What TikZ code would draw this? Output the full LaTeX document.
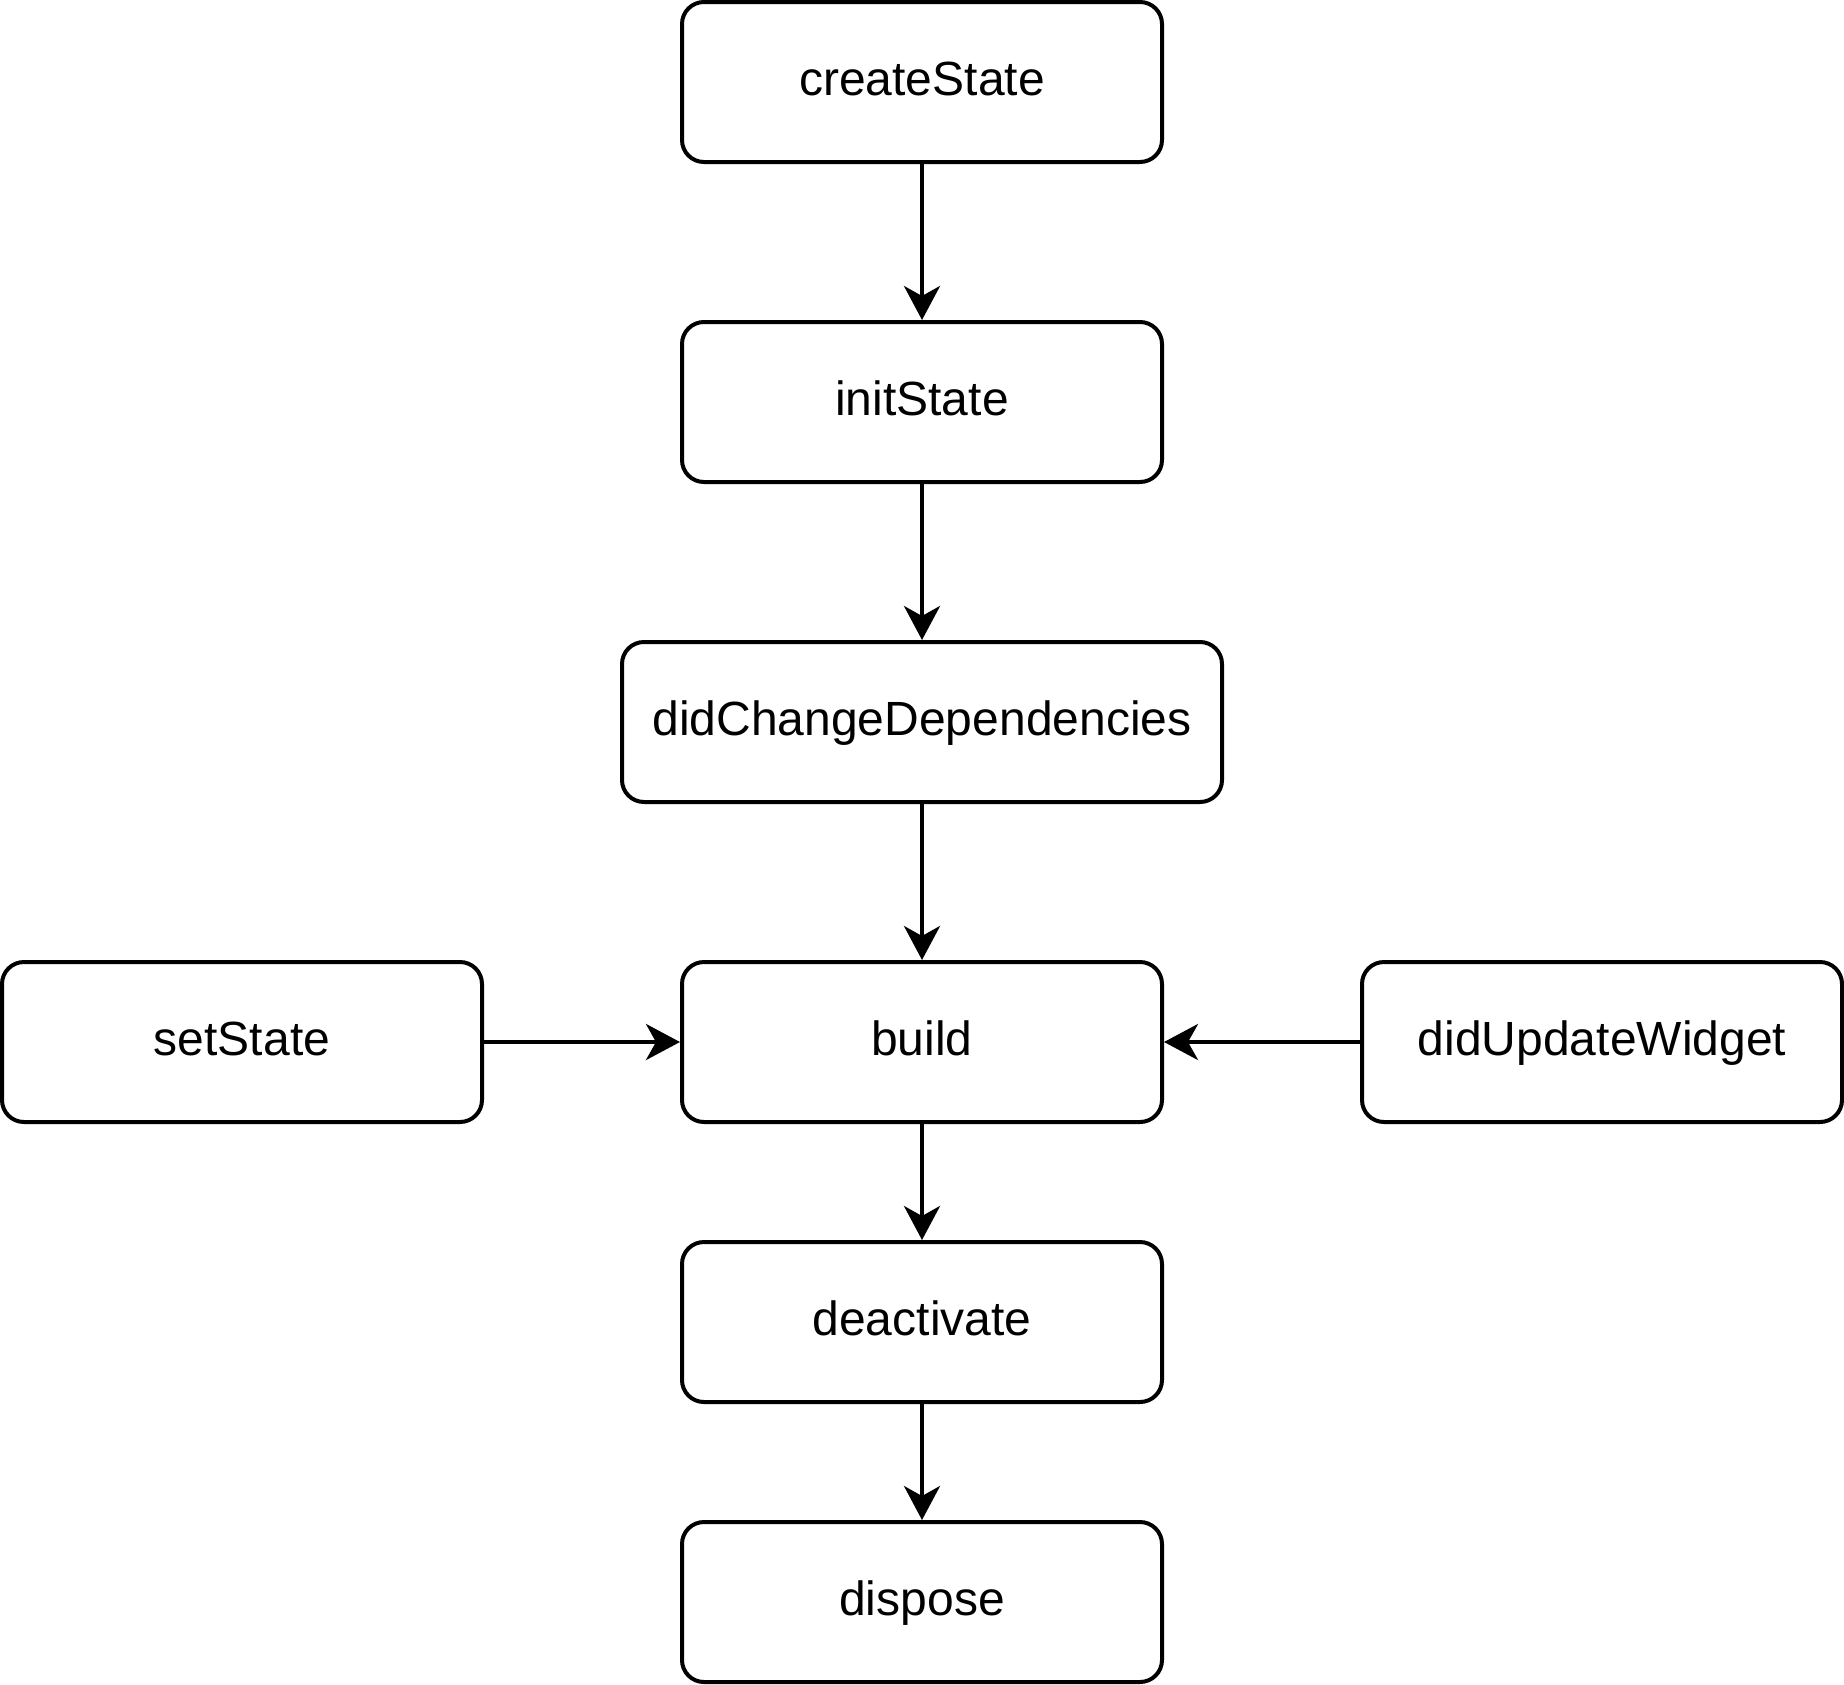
\documentclass[tikz,border=0pt]{standalone}
\usepackage{fontspec}
\setmainfont{Liberation Sans}
\usetikzlibrary{arrows.meta}
\begin{document}
\begin{tikzpicture}[x=1pt,y=-1pt,
  stage/.style={draw=black, line width=4pt, rounded corners=22pt, fill=white,
    minimum width=480pt, minimum height=160pt, inner sep=0pt,
    text height=27pt, text depth=0pt,
    font=\fontsize{48}{58}\selectfont},
  wide/.style={minimum width=600pt},
  flow/.style={line width=4pt, -{Stealth[length=34pt, width=36pt, inset=10pt]}}]
  \useasboundingbox (0,0) rectangle (1844,1684);
  % lifecycle stages, top to bottom
  \node[stage] (create) at (922,82) {createState};
  \node[stage] (init) at (922,402) {initState};
  \node[stage,wide] (deps) at (922,722) {didChangeDependencies};
  \node[stage] (build) at (922,1042) {build};
  \node[stage] (deact) at (922,1322) {deactivate};
  \node[stage] (dispose) at (922,1602) {dispose};
  % triggers that rebuild
  \node[stage] (setst) at (242,1042) {setState};
  \node[stage] (update) at (1602,1042) {didUpdateWidget};
  % connectors
  \draw[flow] (create) -- (init);
  \draw[flow] (init) -- (deps);
  \draw[flow] (deps) -- (build);
  \draw[flow] (build) -- (deact);
  \draw[flow] (deact) -- (dispose);
  \draw[flow] (setst) -- (build);
  \draw[flow] (update) -- (build);
\end{tikzpicture}
\end{document}
